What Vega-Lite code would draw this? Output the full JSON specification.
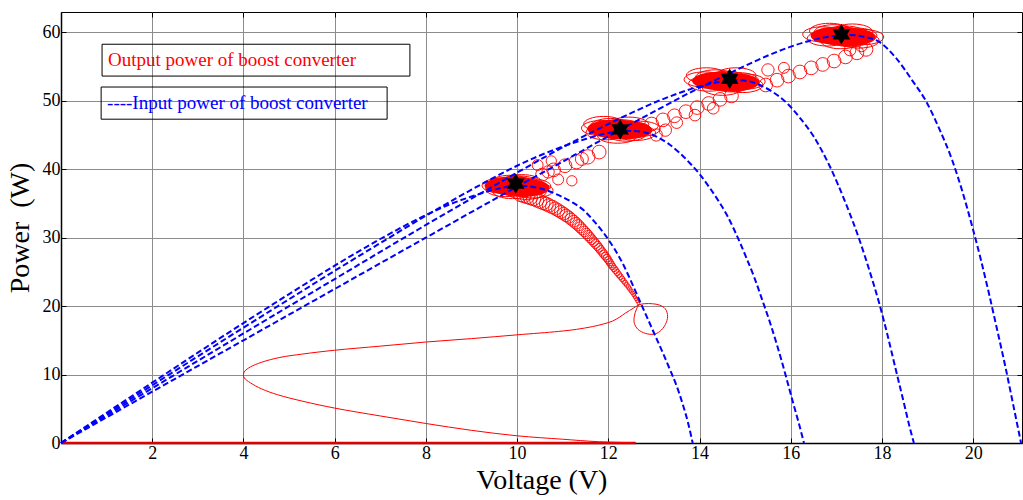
{
  "$schema": "https://vega.github.io/schema/vega-lite/v6.json",
  "width": 961,
  "height": 431,
  "autosize": {"type": "none"},
  "padding": {"left": 61, "top": 12, "right": 1, "bottom": 57},
  "background": "white",
  "config": {
    "view": {"stroke": "black", "strokeWidth": 1},
    "font": "Liberation Serif",
    "axis": {
      "labelFont": "Liberation Serif",
      "titleFont": "Liberation Serif",
      "labelColor": "black",
      "titleColor": "black",
      "titleFontWeight": "normal",
      "labelFontSize": 18,
      "titleFontSize": 28,
      "gridColor": "#8c8c8c",
      "gridWidth": 1,
      "gridOpacity": 1,
      "domainColor": "black",
      "domainWidth": 1.5,
      "tickColor": "black",
      "tickSize": -5,
      "tickWidth": 1
    }
  },
  "datasets": {
    "pv": [
      {"c": 1, "v": 0, "p": 0}, {"c": 1, "v": 1, "p": 4.42}, {"c": 1, "v": 2, "p": 8.81}, {"c": 1, "v": 3, "p": 13.2},
      {"c": 1, "v": 4, "p": 17.52}, {"c": 1, "v": 5, "p": 21.75}, {"c": 1, "v": 6, "p": 25.9}, {"c": 1, "v": 7, "p": 29.8},
      {"c": 1, "v": 8, "p": 33.3}, {"c": 1, "v": 8.5, "p": 34.8}, {"c": 1, "v": 9, "p": 36.0}, {"c": 1, "v": 9.5, "p": 37.0},
      {"c": 1, "v": 10, "p": 37.6}, {"c": 1, "v": 10.5, "p": 37.2}, {"c": 1, "v": 10.91, "p": 36.2}, {"c": 1, "v": 11.2, "p": 35.2},
      {"c": 1, "v": 11.46, "p": 34.0}, {"c": 1, "v": 11.7, "p": 32.3}, {"c": 1, "v": 11.94, "p": 30.3}, {"c": 1, "v": 12.13, "p": 28.4},
      {"c": 1, "v": 12.31, "p": 26.3}, {"c": 1, "v": 12.5, "p": 23.6}, {"c": 1, "v": 12.68, "p": 20.9}, {"c": 1, "v": 12.86, "p": 18.2},
      {"c": 1, "v": 13.04, "p": 15.5}, {"c": 1, "v": 13.2, "p": 13.1}, {"c": 1, "v": 13.34, "p": 10.9}, {"c": 1, "v": 13.5, "p": 8.3},
      {"c": 1, "v": 13.63, "p": 5.7}, {"c": 1, "v": 13.75, "p": 2.9}, {"c": 1, "v": 13.85, "p": 0},

      {"c": 2, "v": 0, "p": 0}, {"c": 2, "v": 1, "p": 4.22}, {"c": 2, "v": 2, "p": 8.43}, {"c": 2, "v": 3, "p": 12.65},
      {"c": 2, "v": 4, "p": 16.85}, {"c": 2, "v": 5, "p": 21.0}, {"c": 2, "v": 6, "p": 25.15}, {"c": 2, "v": 7, "p": 29.2},
      {"c": 2, "v": 8, "p": 33.2}, {"c": 2, "v": 9, "p": 37.0}, {"c": 2, "v": 10, "p": 40.5}, {"c": 2, "v": 10.5, "p": 42.0},
      {"c": 2, "v": 11, "p": 43.3}, {"c": 2, "v": 11.5, "p": 44.4}, {"c": 2, "v": 12, "p": 45.3}, {"c": 2, "v": 12.4, "p": 45.6},
      {"c": 2, "v": 12.7, "p": 45.5}, {"c": 2, "v": 13.04, "p": 44.8}, {"c": 2, "v": 13.3, "p": 43.8}, {"c": 2, "v": 13.56, "p": 42.4},
      {"c": 2, "v": 13.8, "p": 40.8}, {"c": 2, "v": 14.0, "p": 39.3}, {"c": 2, "v": 14.22, "p": 37.3}, {"c": 2, "v": 14.44, "p": 35.1},
      {"c": 2, "v": 14.6, "p": 33.3}, {"c": 2, "v": 14.77, "p": 31.0}, {"c": 2, "v": 15.03, "p": 27.0}, {"c": 2, "v": 15.2, "p": 24.2},
      {"c": 2, "v": 15.39, "p": 20.6}, {"c": 2, "v": 15.55, "p": 17.5}, {"c": 2, "v": 15.69, "p": 14.5}, {"c": 2, "v": 15.8, "p": 12.0},
      {"c": 2, "v": 15.9, "p": 9.6}, {"c": 2, "v": 16.05, "p": 5.9}, {"c": 2, "v": 16.18, "p": 2.8}, {"c": 2, "v": 16.29, "p": 0},

      {"c": 3, "v": 0, "p": 0}, {"c": 3, "v": 1, "p": 4.0}, {"c": 3, "v": 2, "p": 8.0}, {"c": 3, "v": 4, "p": 16.0},
      {"c": 3, "v": 6, "p": 23.95}, {"c": 3, "v": 8, "p": 31.85}, {"c": 3, "v": 9, "p": 35.7}, {"c": 3, "v": 10, "p": 39.5},
      {"c": 3, "v": 11, "p": 43.2}, {"c": 3, "v": 12, "p": 46.6}, {"c": 3, "v": 12.5, "p": 48.2}, {"c": 3, "v": 13, "p": 49.7},
      {"c": 3, "v": 13.5, "p": 51.0}, {"c": 3, "v": 14, "p": 52.1}, {"c": 3, "v": 14.4, "p": 52.7}, {"c": 3, "v": 14.8, "p": 53.0},
      {"c": 3, "v": 15.1, "p": 52.8}, {"c": 3, "v": 15.32, "p": 52.3}, {"c": 3, "v": 15.6, "p": 51.3}, {"c": 3, "v": 15.91, "p": 49.7},
      {"c": 3, "v": 16.2, "p": 47.5}, {"c": 3, "v": 16.5, "p": 44.8}, {"c": 3, "v": 16.85, "p": 40.5}, {"c": 3, "v": 17.2, "p": 35.1},
      {"c": 3, "v": 17.5, "p": 29.8}, {"c": 3, "v": 17.72, "p": 25.3}, {"c": 3, "v": 17.94, "p": 20.4}, {"c": 3, "v": 18.12, "p": 15.8},
      {"c": 3, "v": 18.3, "p": 10.8}, {"c": 3, "v": 18.5, "p": 5.3}, {"c": 3, "v": 18.6, "p": 2.5}, {"c": 3, "v": 18.7, "p": 0},

      {"c": 4, "v": 0, "p": 0}, {"c": 4, "v": 2, "p": 7.5}, {"c": 4, "v": 4, "p": 15.0}, {"c": 4, "v": 6, "p": 22.5},
      {"c": 4, "v": 8, "p": 30.0}, {"c": 4, "v": 10, "p": 37.45}, {"c": 4, "v": 11, "p": 41.1}, {"c": 4, "v": 12, "p": 44.8},
      {"c": 4, "v": 13, "p": 48.4}, {"c": 4, "v": 14, "p": 51.9}, {"c": 4, "v": 14.5, "p": 53.5}, {"c": 4, "v": 15, "p": 55.1},
      {"c": 4, "v": 15.5, "p": 56.6}, {"c": 4, "v": 16, "p": 57.9}, {"c": 4, "v": 16.5, "p": 58.9}, {"c": 4, "v": 17, "p": 59.5},
      {"c": 4, "v": 17.3, "p": 59.6}, {"c": 4, "v": 17.6, "p": 59.35}, {"c": 4, "v": 17.94, "p": 58.6}, {"c": 4, "v": 18.3, "p": 56.3},
      {"c": 4, "v": 18.67, "p": 52.9}, {"c": 4, "v": 18.96, "p": 50.0}, {"c": 4, "v": 19.25, "p": 46.0}, {"c": 4, "v": 19.54, "p": 41.3},
      {"c": 4, "v": 19.76, "p": 36.8}, {"c": 4, "v": 19.98, "p": 31.6}, {"c": 4, "v": 20.16, "p": 27.0}, {"c": 4, "v": 20.34, "p": 22.0},
      {"c": 4, "v": 20.52, "p": 16.7}, {"c": 4, "v": 20.71, "p": 11.0}, {"c": 4, "v": 20.88, "p": 5.5}, {"c": 4, "v": 21.0, "p": 1.6},
      {"c": 4, "v": 21.05, "p": 0}
    ],
    "idle": [{"v": 0, "p": 0}, {"v": 12.6, "p": 0}],
    "startup": [
      {"i": 1, "v": 12.5, "p": 0.05}, {"i": 2, "v": 11.76, "p": 0.2}, {"i": 3, "v": 11.0, "p": 0.55}, {"i": 4, "v": 10.0, "p": 1.05},
      {"i": 5, "v": 9.0, "p": 1.85}, {"i": 6, "v": 8.0, "p": 2.85}, {"i": 7, "v": 7.0, "p": 3.95}, {"i": 8, "v": 6.0, "p": 5.1},
      {"i": 9, "v": 5.3, "p": 6.1}, {"i": 10, "v": 4.75, "p": 7.05}, {"i": 11, "v": 4.4, "p": 7.9}, {"i": 12, "v": 4.15, "p": 8.8},
      {"i": 13, "v": 4.02, "p": 9.5}, {"i": 14, "v": 4.0, "p": 10.0}, {"i": 15, "v": 4.03, "p": 10.5}, {"i": 16, "v": 4.15, "p": 11.1},
      {"i": 17, "v": 4.4, "p": 11.8}, {"i": 18, "v": 4.8, "p": 12.5}, {"i": 19, "v": 5.3, "p": 13.0}, {"i": 20, "v": 6.0, "p": 13.55},
      {"i": 21, "v": 7.0, "p": 14.15}, {"i": 22, "v": 8.0, "p": 14.75}, {"i": 23, "v": 9.0, "p": 15.25}, {"i": 24, "v": 10.0, "p": 15.8},
      {"i": 25, "v": 10.91, "p": 16.3}, {"i": 26, "v": 11.3, "p": 16.6}, {"i": 27, "v": 11.65, "p": 17.0}, {"i": 28, "v": 11.9, "p": 17.4},
      {"i": 29, "v": 12.09, "p": 17.8}, {"i": 30, "v": 12.25, "p": 18.4}, {"i": 31, "v": 12.38, "p": 19.0}, {"i": 32, "v": 12.55, "p": 19.7},
      {"i": 33, "v": 12.68, "p": 20.2}, {"i": 34, "v": 12.8, "p": 20.35}, {"i": 35, "v": 12.97, "p": 20.34}, {"i": 36, "v": 13.12, "p": 20.15},
      {"i": 37, "v": 13.25, "p": 19.6}, {"i": 38, "v": 13.3, "p": 18.5}, {"i": 39, "v": 13.25, "p": 17.3}, {"i": 40, "v": 13.13, "p": 16.3},
      {"i": 41, "v": 13.0, "p": 15.9}, {"i": 42, "v": 12.82, "p": 16.0}, {"i": 43, "v": 12.65, "p": 16.6}, {"i": 44, "v": 12.57, "p": 17.5},
      {"i": 45, "v": 12.57, "p": 18.5}, {"i": 46, "v": 12.62, "p": 19.6}, {"i": 47, "v": 12.68, "p": 20.3}
    ],
    "ripple": [
      {"v": 12.66, "p": 20.4, "amp": 0.4}, {"v": 12.635, "p": 20.7, "amp": 0.43}, {"v": 12.61, "p": 21.0, "amp": 0.47},
      {"v": 12.585, "p": 21.3, "amp": 0.5}, {"v": 12.56, "p": 21.6, "amp": 0.53}, {"v": 12.53, "p": 21.9, "amp": 0.56},
      {"v": 12.5, "p": 22.2, "amp": 0.6}, {"v": 12.47, "p": 22.5, "amp": 0.63}, {"v": 12.44, "p": 22.8, "amp": 0.66},
      {"v": 12.405, "p": 23.1, "amp": 0.7}, {"v": 12.37, "p": 23.4, "amp": 0.73}, {"v": 12.335, "p": 23.7, "amp": 0.76},
      {"v": 12.3, "p": 24.0, "amp": 0.8}, {"v": 12.265, "p": 24.3, "amp": 0.83}, {"v": 12.23, "p": 24.6, "amp": 0.86},
      {"v": 12.195, "p": 24.9, "amp": 0.9}, {"v": 12.16, "p": 25.2, "amp": 0.93}, {"v": 12.125, "p": 25.5, "amp": 0.96},
      {"v": 12.09, "p": 25.8, "amp": 0.99}, {"v": 12.06, "p": 26.1, "amp": 1.03}, {"v": 12.03, "p": 26.4, "amp": 1.06},
      {"v": 12.0, "p": 26.7, "amp": 1.09}, {"v": 11.97, "p": 27.0, "amp": 1.13}, {"v": 11.935, "p": 27.3, "amp": 1.16},
      {"v": 11.9, "p": 27.6, "amp": 1.19}, {"v": 11.865, "p": 27.9, "amp": 1.22}, {"v": 11.83, "p": 28.2, "amp": 1.26},
      {"v": 11.795, "p": 28.5, "amp": 1.29}, {"v": 11.76, "p": 28.8, "amp": 1.32}, {"v": 11.72, "p": 29.1, "amp": 1.36},
      {"v": 11.68, "p": 29.4, "amp": 1.39}, {"v": 11.64, "p": 29.7, "amp": 1.42}, {"v": 11.6, "p": 30.0, "amp": 1.46},
      {"v": 11.56, "p": 30.3, "amp": 1.49}, {"v": 11.52, "p": 30.6, "amp": 1.52}, {"v": 11.475, "p": 30.9, "amp": 1.55},
      {"v": 11.43, "p": 31.2, "amp": 1.59}, {"v": 11.385, "p": 31.5, "amp": 1.62}, {"v": 11.34, "p": 31.8, "amp": 1.65},
      {"v": 11.29, "p": 32.1, "amp": 1.69}, {"v": 11.24, "p": 32.4, "amp": 1.72}, {"v": 11.185, "p": 32.7, "amp": 1.75},
      {"v": 11.13, "p": 33.0, "amp": 1.79}, {"v": 11.075, "p": 33.25, "amp": 1.81}, {"v": 11.02, "p": 33.5, "amp": 1.84},
      {"v": 10.96, "p": 33.75, "amp": 1.87}, {"v": 10.9, "p": 34.0, "amp": 1.9}, {"v": 10.835, "p": 34.25, "amp": 1.92},
      {"v": 10.77, "p": 34.5, "amp": 1.95}, {"v": 10.7, "p": 34.7, "amp": 1.97}, {"v": 10.64, "p": 34.9, "amp": 2.0},
      {"v": 10.57, "p": 35.1, "amp": 2.02}, {"v": 10.5, "p": 35.3, "amp": 2.04}, {"v": 10.43, "p": 35.5, "amp": 2.06},
      {"v": 10.36, "p": 35.7, "amp": 2.08}, {"v": 10.29, "p": 35.85, "amp": 2.09}, {"v": 10.22, "p": 36.0, "amp": 2.1},
      {"v": 10.15, "p": 36.15, "amp": 2.1}, {"v": 10.08, "p": 36.3, "amp": 2.1},

      {"v": 10.55, "p": 39.2, "amp": 1.9}, {"v": 10.8, "p": 39.9, "amp": 2.0}, {"v": 11.05, "p": 40.5, "amp": 2.0},
      {"v": 11.3, "p": 41.1, "amp": 2.1}, {"v": 11.55, "p": 41.8, "amp": 2.1}, {"v": 11.8, "p": 42.5, "amp": 2.0},
      {"v": 10.45, "p": 40.6, "amp": 1.6}, {"v": 10.75, "p": 41.2, "amp": 1.5}, {"v": 10.9, "p": 38.5, "amp": 1.6},
      {"v": 11.2, "p": 38.3, "amp": 1.5}, {"v": 10.68, "p": 39.6, "amp": 1.8}, {"v": 11.42, "p": 41.5, "amp": 1.9},

      {"v": 12.95, "p": 46.6, "amp": 2.0}, {"v": 13.2, "p": 47.2, "amp": 2.0}, {"v": 13.45, "p": 47.8, "amp": 2.0},
      {"v": 13.7, "p": 48.4, "amp": 2.0}, {"v": 13.95, "p": 49.0, "amp": 2.0}, {"v": 14.2, "p": 49.6, "amp": 2.0},
      {"v": 14.45, "p": 50.2, "amp": 2.0}, {"v": 14.7, "p": 50.7, "amp": 2.0}, {"v": 13.05, "p": 45.0, "amp": 1.8},
      {"v": 13.25, "p": 45.7, "amp": 1.8}, {"v": 13.5, "p": 46.8, "amp": 1.7}, {"v": 13.9, "p": 47.9, "amp": 1.7},
      {"v": 14.3, "p": 48.9, "amp": 1.7},

      {"v": 15.45, "p": 52.3, "amp": 2.0}, {"v": 15.7, "p": 53.0, "amp": 2.0}, {"v": 15.95, "p": 53.6, "amp": 2.0},
      {"v": 16.2, "p": 54.2, "amp": 2.0}, {"v": 16.45, "p": 54.8, "amp": 2.0}, {"v": 16.7, "p": 55.3, "amp": 2.0},
      {"v": 16.95, "p": 55.8, "amp": 2.0}, {"v": 17.2, "p": 56.4, "amp": 2.0}, {"v": 17.45, "p": 57.0, "amp": 2.0},
      {"v": 17.65, "p": 57.5, "amp": 2.0}, {"v": 15.5, "p": 54.5, "amp": 1.8}, {"v": 15.85, "p": 54.8, "amp": 1.6},
      {"v": 17.3, "p": 57.4, "amp": 1.7}, {"v": 17.55, "p": 58.0, "amp": 1.7}
    ],
    "cluster": [
      {"v": 9.9, "p": 37.6, "kind": "core"}, {"v": 10.1, "p": 37.3, "kind": "core"},
      {"v": 12.15, "p": 45.9, "kind": "core"}, {"v": 12.35, "p": 45.7, "kind": "core"},
      {"v": 14.45, "p": 52.9, "kind": "core"}, {"v": 14.7, "p": 52.7, "kind": "core"},
      {"v": 17.05, "p": 59.5, "kind": "core"}, {"v": 17.25, "p": 59.3, "kind": "core"},
      {"v": 9.67, "p": 37.6, "kind": "ring"}, {"v": 9.75, "p": 37.1, "kind": "ring"}, {"v": 9.85, "p": 38.0, "kind": "ring"},
      {"v": 9.95, "p": 37.3, "kind": "ring"}, {"v": 10.05, "p": 37.9, "kind": "ring"}, {"v": 10.15, "p": 37.2, "kind": "ring"},
      {"v": 10.2, "p": 36.7, "kind": "ring"}, {"v": 10.3, "p": 37.5, "kind": "ring"}, {"v": 9.9, "p": 36.8, "kind": "ring"},
      {"v": 10.1, "p": 38.1, "kind": "ring"}, {"v": 9.8, "p": 37.5, "kind": "ring"}, {"v": 10.35, "p": 36.9, "kind": "ring"},
      {"v": 11.85, "p": 46.0, "kind": "ring"}, {"v": 11.95, "p": 45.4, "kind": "ring"}, {"v": 12.05, "p": 46.3, "kind": "ring"},
      {"v": 12.15, "p": 45.6, "kind": "ring"}, {"v": 12.3, "p": 46.1, "kind": "ring"}, {"v": 12.4, "p": 45.2, "kind": "ring"},
      {"v": 12.5, "p": 45.8, "kind": "ring"}, {"v": 12.6, "p": 45.3, "kind": "ring"}, {"v": 12.2, "p": 44.9, "kind": "ring"},
      {"v": 12.45, "p": 46.5, "kind": "ring"}, {"v": 11.9, "p": 46.6, "kind": "ring"}, {"v": 12.7, "p": 45.9, "kind": "ring"},
      {"v": 14.1, "p": 53.1, "kind": "ring"}, {"v": 14.2, "p": 52.5, "kind": "ring"}, {"v": 14.35, "p": 53.4, "kind": "ring"},
      {"v": 14.45, "p": 52.7, "kind": "ring"}, {"v": 14.6, "p": 53.2, "kind": "ring"}, {"v": 14.7, "p": 52.4, "kind": "ring"},
      {"v": 14.85, "p": 53.0, "kind": "ring"}, {"v": 14.95, "p": 52.3, "kind": "ring"}, {"v": 14.5, "p": 51.9, "kind": "ring"},
      {"v": 14.8, "p": 53.7, "kind": "ring"}, {"v": 14.15, "p": 53.7, "kind": "ring"}, {"v": 15.0, "p": 52.8, "kind": "ring"},
      {"v": 16.7, "p": 59.7, "kind": "ring"}, {"v": 16.8, "p": 59.1, "kind": "ring"}, {"v": 16.95, "p": 60.0, "kind": "ring"},
      {"v": 17.05, "p": 59.3, "kind": "ring"}, {"v": 17.2, "p": 59.8, "kind": "ring"}, {"v": 17.3, "p": 59.0, "kind": "ring"},
      {"v": 17.45, "p": 59.5, "kind": "ring"}, {"v": 17.5, "p": 58.8, "kind": "ring"}, {"v": 17.1, "p": 58.7, "kind": "ring"},
      {"v": 16.85, "p": 60.2, "kind": "ring"}, {"v": 17.35, "p": 60.1, "kind": "ring"}, {"v": 17.6, "p": 59.3, "kind": "ring"}
    ],
    "mpp": [
      {"v": 9.97, "p": 37.9}, {"v": 12.26, "p": 45.8}, {"v": 14.66, "p": 53.2}, {"v": 17.11, "p": 59.7}
    ],
    "notes": [
      {"kind": "out", "x1": 0.9, "x2": 7.65, "y1": 53.6, "y2": 58.25, "tx": 1.03, "ty": 56.0, "label": "Output power of boost converter"},
      {"kind": "in", "x1": 0.88, "x2": 7.15, "y1": 47.3, "y2": 52.0, "tx": 1.01, "ty": 49.6, "label": "----Input power of boost converter"}
    ]
  },
  "resolve": {"axis": {"x": "independent", "y": "independent"}},
  "layer": [
    {
      "data": {"name": "idle"},
      "mark": {"type": "line", "color": "#e00000", "strokeWidth": 2.5},
      "encoding": {
        "x": {
          "field": "v", "type": "quantitative",
          "scale": {"domain": [0, 21.07], "nice": false, "zero": false},
          "axis": {"title": "Voltage (V)", "values": [2, 4, 6, 8, 10, 12, 14, 16, 18, 20], "grid": true, "labelPadding": 6, "titlePadding": 4}
        },
        "y": {
          "field": "p", "type": "quantitative",
          "scale": {"domain": [0, 62.96], "nice": false},
          "axis": {"title": "Power\u00a0 (W)", "values": [0, 10, 20, 30, 40, 50, 60], "grid": true, "labelPadding": 6, "titlePadding": 8}
        }
      }
    },
    {
      "data": {"name": "startup"},
      "mark": {"type": "line", "color": "#ff0000", "strokeWidth": 1, "interpolate": "catmull-rom"},
      "encoding": {
        "x": {"field": "v", "type": "quantitative", "axis": null},
        "y": {"field": "p", "type": "quantitative", "axis": null},
        "order": {"field": "i", "type": "quantitative"}
      }
    },
    {
      "data": {"name": "ripple"},
      "mark": {"type": "point", "shape": "circle", "filled": false, "color": "#ff0000", "strokeWidth": 0.9, "opacity": 1},
      "encoding": {
        "x": {"field": "v", "type": "quantitative", "axis": null},
        "y": {"field": "p", "type": "quantitative", "axis": null},
        "size": {"field": "amp", "type": "quantitative", "legend": null,
                 "scale": {"type": "pow", "exponent": 2, "domain": [0, 2.2], "range": [0, 227]}}
      }
    },
    {
      "data": {"name": "cluster"},
      "transform": [{"filter": "datum.kind === 'core'"}],
      "mark": {"type": "point", "filled": true, "color": "#ff0000", "opacity": 1, "size": 3136,
               "shape": "M-1,0C-1,-0.182,-0.552,-0.33,0,-0.33C0.552,-0.33,1,-0.182,1,0C1,0.182,0.552,0.33,0,0.33C-0.552,0.33,-1,0.182,-1,0Z"},
      "encoding": {
        "x": {"field": "v", "type": "quantitative", "axis": null},
        "y": {"field": "p", "type": "quantitative", "axis": null}
      }
    },
    {
      "data": {"name": "cluster"},
      "transform": [{"filter": "datum.kind === 'ring'"}],
      "mark": {"type": "point", "filled": false, "color": "#ff0000", "opacity": 1, "strokeWidth": 1, "size": 1600,
               "shape": "M-1,0C-1,-0.21,-0.552,-0.38,0,-0.38C0.552,-0.38,1,-0.21,1,0C1,0.21,0.552,0.38,0,0.38C-0.552,0.38,-1,0.21,-1,0Z"},
      "encoding": {
        "x": {"field": "v", "type": "quantitative", "axis": null},
        "y": {"field": "p", "type": "quantitative", "axis": null}
      }
    },
    {
      "data": {"name": "pv"},
      "mark": {"type": "line", "color": "#0000ff", "strokeWidth": 2, "strokeDash": [6, 3], "interpolate": "monotone"},
      "encoding": {
        "x": {"field": "v", "type": "quantitative", "axis": null},
        "y": {"field": "p", "type": "quantitative", "axis": null},
        "detail": {"field": "c", "type": "nominal"}
      }
    },
    {
      "data": {"name": "mpp"},
      "mark": {"type": "point", "filled": true, "color": "black", "opacity": 1, "size": 420, "strokeWidth": 0,
               "shape": "M0,-1L0.866,0.5L-0.866,0.5Z M0,1L-0.866,-0.5L0.866,-0.5Z"},
      "encoding": {
        "x": {"field": "v", "type": "quantitative",
              "axis": {"orient": "top", "values": [2, 4, 6, 8, 10, 12, 14, 16, 18, 20], "labels": false, "grid": false, "title": null, "domain": false}},
        "y": {"field": "p", "type": "quantitative",
              "axis": {"orient": "right", "values": [0, 10, 20, 30, 40, 50, 60], "labels": false, "grid": false, "title": null, "domain": false}}
      }
    },
    {
      "data": {"name": "notes"},
      "mark": {"type": "rect", "fill": null, "stroke": "black", "strokeWidth": 1},
      "encoding": {
        "x": {"field": "x1", "type": "quantitative", "axis": null},
        "x2": {"field": "x2"},
        "y": {"field": "y1", "type": "quantitative", "axis": null},
        "y2": {"field": "y2"}
      }
    },
    {
      "data": {"name": "notes"},
      "mark": {"type": "text", "align": "left", "baseline": "middle", "font": "Liberation Serif", "fontSize": 19},
      "encoding": {
        "x": {"field": "tx", "type": "quantitative", "axis": null},
        "y": {"field": "ty", "type": "quantitative", "axis": null},
        "text": {"field": "label"},
        "color": {"field": "kind", "type": "nominal", "legend": null,
                  "scale": {"domain": ["out", "in"], "range": ["#ff0000", "#0000ff"]}}
      }
    }
  ]
}
